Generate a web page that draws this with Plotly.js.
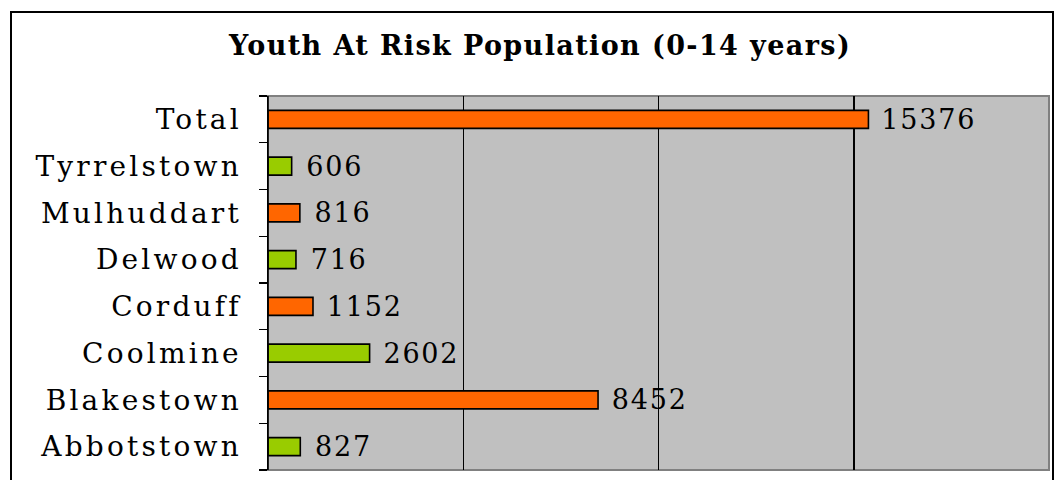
<!DOCTYPE html>
<html>
<head>
<meta charset="utf-8">
<script src="https://cdn.plot.ly/plotly-3.0.1.min.js"></script>
<style>
html, body { margin: 0; padding: 0; background: #fff; }
#chart { width: 1054px; height: 480px; }
#chart .ytick text { letter-spacing: 3.2px; }
#chart .bartext { letter-spacing: 1.8px; }
#chart .gtitle { letter-spacing: 1.4px; }
</style>
</head>
<body>
<div id="chart"></div>
<script>
const categories = ["Abbotstown", "Blakestown", "Coolmine", "Corduff", "Delwood", "Mulhuddart", "Tyrrelstown", "Total"];
const values = [827, 8452, 2602, 1152, 716, 816, 606, 15376];
const barColors = ["#99CC00", "#FF6600", "#99CC00", "#FF6600", "#99CC00", "#FF6600", "#99CC00", "#FF6600"];
const titleText = "Youth At Risk Population (0-14 years)";

const serif = "DejaVu Serif";

const trace = {
  type: "bar",
  orientation: "h",
  y: categories,
  x: values,
  marker: { color: barColors, line: { color: "#000000", width: 1.6 } },
  text: values.map(v => "\u2002" + v),
  textposition: "outside",
  constraintext: "none",
  textfont: { family: serif, size: 27, color: "#000000" },
  cliponaxis: false,
  hoverinfo: "none"
};

// margins: plot area 268..1049 x, 96..470 y
const L = 268, R = 1054 - 1049, T = 96, B = 480 - 470;
const pw = 1054 - L - R, ph = 480 - T - B;
const px = v => (v - L) / pw;
const py = v => (480 - B - v) / ph;

const layout = {
  width: 1054, height: 480,
  margin: { l: L, r: R, t: T, b: B, pad: 0 },
  paper_bgcolor: "#FFFFFF",
  plot_bgcolor: "#C0C0C0",
  showlegend: false,
  bargap: 0.615,
  title: {
    text: "<b>" + titleText + "</b>",
    font: { family: serif, size: 27, color: "#000000" },
    x: 540 / 1054, xanchor: "center", xref: "container",
    y: 1 - 46 / 480, yanchor: "middle", yref: "container"
  },
  xaxis: {
    range: [0, 20000],
    dtick: 5000, tick0: 0,
    showgrid: true, gridcolor: "#000000", gridwidth: 1.5,
    zeroline: false, showticklabels: false, ticks: "",
    showline: false, fixedrange: true
  },
  yaxis: {
    type: "category",
    tickson: "boundaries",
    ticks: "outside", ticklen: 8, tickcolor: "#000000", tickwidth: 1.3,
    showline: true, linecolor: "#000000", linewidth: 1.5,
    showgrid: false, zeroline: false,
    tickfont: { family: serif, size: 28, color: "#000000" },
    ticklabelstandoff: 19,
    fixedrange: true
  },
  shapes: [
    { type: "rect", xref: "paper", yref: "paper", x0: 0, x1: 1, y0: 0, y1: 1,
      line: { color: "#808080", width: 2 }, fillcolor: "rgba(0,0,0,0)", layer: "below" },
    { type: "line", xref: "paper", yref: "paper", x0: 0, x1: 0, y0: 0, y1: 1,
      line: { color: "#000000", width: 1.5 }, layer: "above" },
    { type: "rect", xref: "paper", yref: "paper", x0: px(11), x1: px(1053), y0: py(495), y1: py(12),
      line: { color: "#000000", width: 2 }, fillcolor: "rgba(0,0,0,0)", layer: "above" }
  ]
};

Plotly.newPlot("chart", [trace], layout, { displayModeBar: false, staticPlot: true });
</script>
</body>
</html>
